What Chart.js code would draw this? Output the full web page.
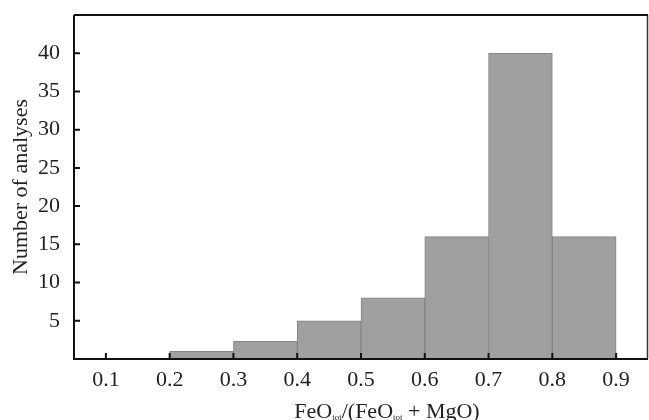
<!DOCTYPE html>
<html>
<head>
<meta charset="utf-8">
<script src="https://cdn.jsdelivr.net/npm/chart.js@4/dist/chart.umd.min.js"></script>
<style>
  body { margin: 0; background: #fff; }
</style>
</head>
<body>
<canvas id="chart" width="649" height="420"></canvas>
<script>
// histogram bins (centre of each 0.1 wide bin) and counts
const binCentres = [0.25, 0.35, 0.45, 0.55, 0.65, 0.75, 0.85];
const counts = [1, 2.3, 5, 8, 16, 40, 16];
const xTickValues = [0.1, 0.2, 0.3, 0.4, 0.5, 0.6, 0.7, 0.8, 0.9];
const yTickValues = [5, 10, 15, 20, 25, 30, 35, 40];

const serif = '"Liberation Serif", "Times New Roman", serif';

// frame, inward ticks and the x title with subscripts
const framePlugin = {
    id: 'frame',
    afterDatasetsDraw(chart) {
        const ctx = chart.ctx;
        const a = chart.chartArea;
        const x = chart.scales.x;
        const y = chart.scales.y;
        ctx.save();
        // right border (thin)
        ctx.strokeStyle = '#333';
        ctx.lineWidth = 1.5;
        ctx.beginPath();
        ctx.moveTo(a.right - 0.5, a.top);
        ctx.lineTo(a.right - 0.5, a.bottom);
        ctx.stroke();
        // left, bottom, top
        ctx.strokeStyle = '#111';
        ctx.lineWidth = 2;
        ctx.beginPath();
        ctx.moveTo(a.left, a.top);
        ctx.lineTo(a.left, a.bottom);
        ctx.lineTo(a.right, a.bottom);
        ctx.moveTo(a.left, a.top);
        ctx.lineTo(a.right, a.top);
        ctx.stroke();
        // ticks
        ctx.lineWidth = 2;
        ctx.beginPath();
        xTickValues.forEach(v => {
            const px = x.getPixelForValue(v);
            ctx.moveTo(px, a.bottom);
            ctx.lineTo(px, a.bottom - 6);
        });
        yTickValues.forEach(v => {
            const py = y.getPixelForValue(v);
            ctx.moveTo(a.left, py);
            ctx.lineTo(a.left + 6, py);
        });
        ctx.stroke();

        // x axis title: FeO_tot/(FeO_tot + MgO)
        const parts = [
            ['FeO', false], ['tot', true], ['/(FeO', false], ['tot', true], [' + MgO)', false]
        ];
        const big = '22px ' + serif;
        const small = '9px ' + serif;
        let total = 0;
        parts.forEach(p => {
            ctx.font = p[1] ? small : big;
            total += ctx.measureText(p[0]).width;
        });
        let cx = 387 - total / 2;
        const base = 418;
        ctx.fillStyle = '#222';
        ctx.textBaseline = 'alphabetic';
        ctx.textAlign = 'left';
        parts.forEach(p => {
            ctx.font = p[1] ? small : big;
            ctx.fillText(p[0], cx, p[1] ? base + 2 : base);
            cx += ctx.measureText(p[0]).width;
        });
        ctx.restore();
    }
};

const ctx = document.getElementById('chart').getContext('2d');
const histChart = new Chart(ctx, {
    type: 'bar',
    data: {
        datasets: [{
            data: binCentres.map((c, i) => ({ x: c, y: counts[i] })),
            backgroundColor: '#a0a0a0',
            borderColor: '#858585',
            borderWidth: 1,
            barPercentage: 1,
            categoryPercentage: 1
        }]
    },
    options: {
        responsive: false,
        animation: false,
        layout: { padding: { top: 15, right: 1, left: 0, bottom: 0 } },
        plugins: {
            legend: { display: false },
            tooltip: { enabled: false }
        },
        scales: {
            x: {
                type: 'linear',
                offset: false,
                min: 0.05,
                max: 0.95,
                grid: { display: false },
                border: { display: false },
                afterBuildTicks: s => { s.ticks = xTickValues.map(v => ({ value: v })); },
                afterFit: s => {
                    s.height = 61;
                    s.paddingLeft = 0;
                    s.paddingRight = 0;
                },
                ticks: {
                    color: '#222',
                    font: { family: serif, size: 22 },
                    padding: 0,
                    maxRotation: 0,
                    callback: v => v.toFixed(1)
                }
            },
            y: {
                min: 0,
                max: 45,
                grid: { display: false },
                border: { display: false },
                afterBuildTicks: s => { s.ticks = yTickValues.map(v => ({ value: v })); },
                afterFit: s => {
                    s.width = 74;
                    s.paddingTop = 0;
                    s.paddingBottom = 0;
                },
                ticks: {
                    color: '#222',
                    font: { family: serif, size: 22 },
                    padding: 6
                },
                title: {
                    display: true,
                    text: 'Number of analyses',
                    color: '#222',
                    font: { family: serif, size: 22 },
                    padding: { top: 8, bottom: 0 }
                }
            }
        }
    },
    plugins: [framePlugin]
});
</script>
</body>
</html>
